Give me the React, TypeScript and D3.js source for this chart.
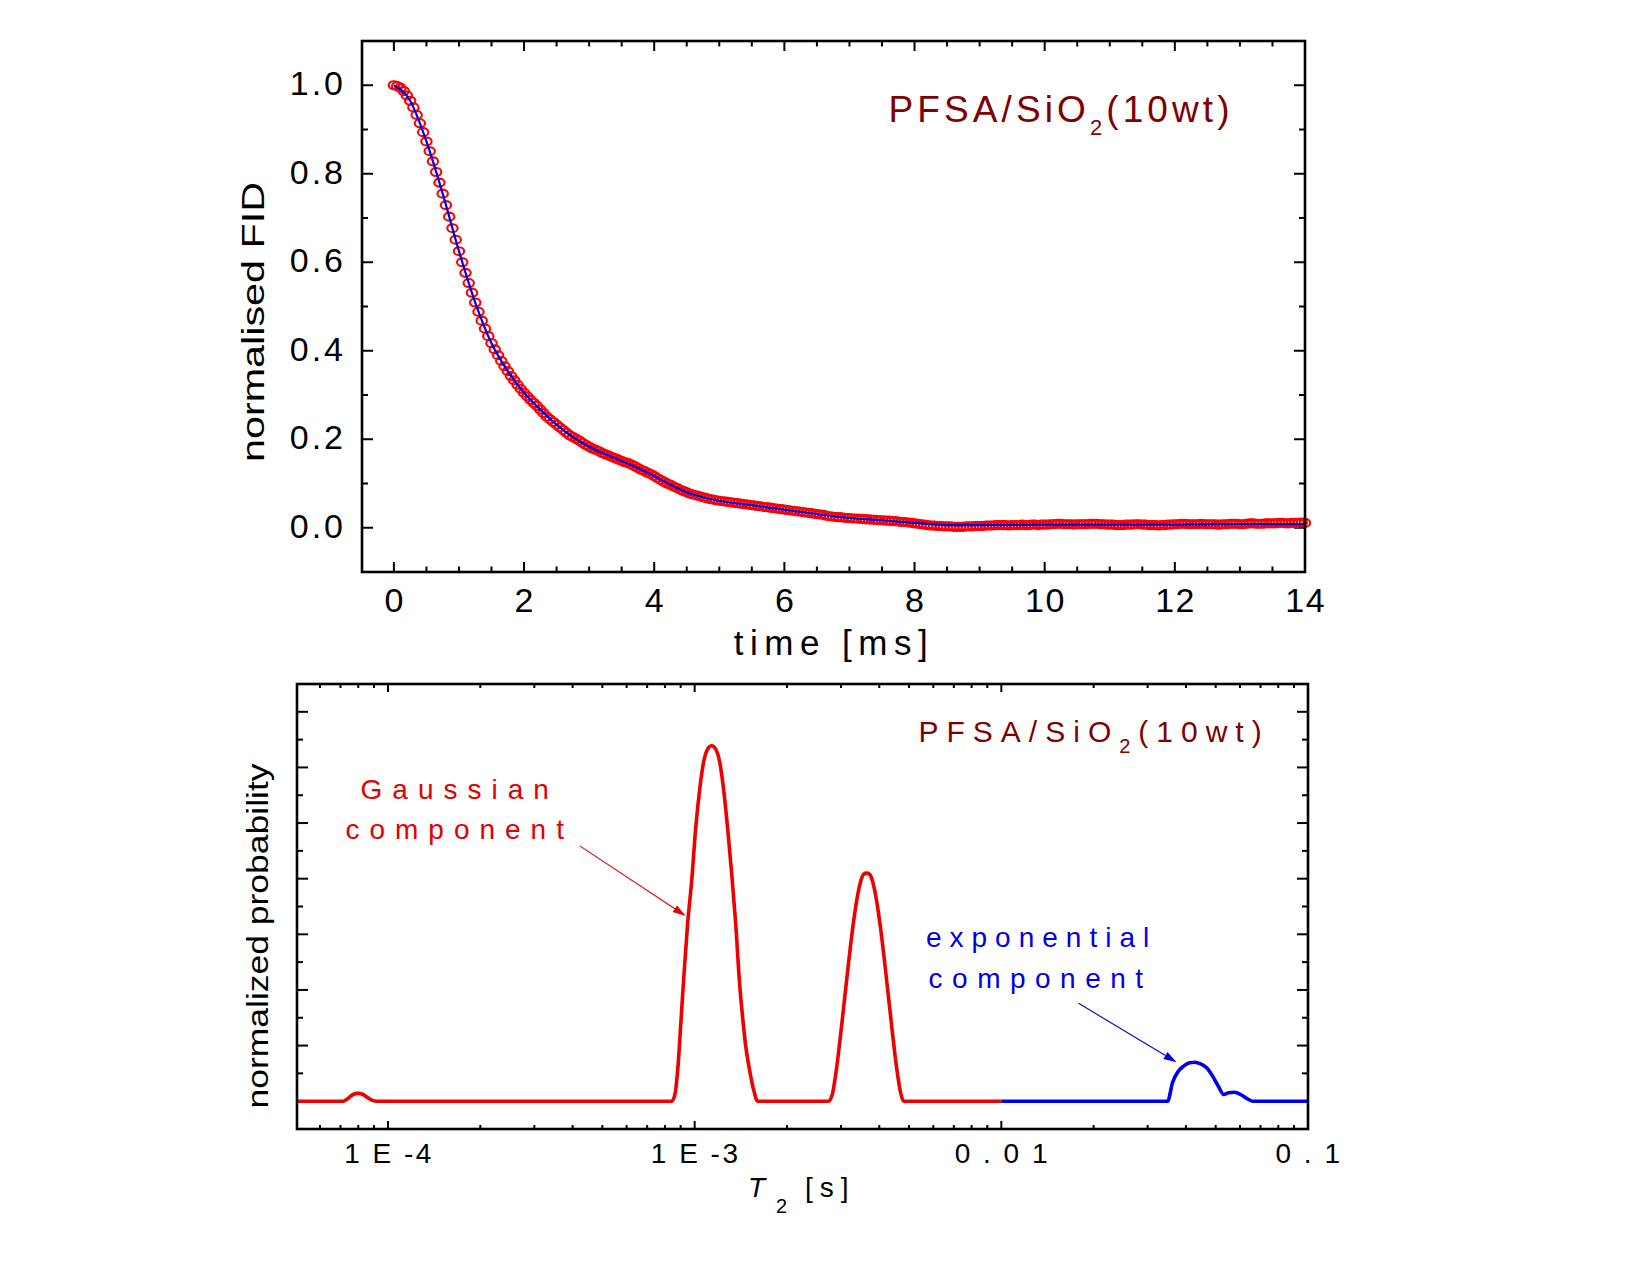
import React from 'react';
import * as d3 from 'd3';

const FONT = '"Liberation Sans", Arial, Helvetica, sans-serif';

// ---------- Top panel: normalised FID ----------
const fidStep = 0.05; // ms between acquired points
const fidValues: number[] = [
  1.000, 0.998, 0.994, 0.987, 0.977, 0.965, 0.950, 0.933, 0.914, 0.894, 0.873, 0.851, 0.828, 0.804, 0.780, 0.755, 0.729, 0.703, 0.677, 0.651,
  0.625, 0.600, 0.576, 0.553, 0.531, 0.509, 0.488, 0.468, 0.450, 0.433, 0.417, 0.403, 0.390, 0.377, 0.365, 0.354, 0.343, 0.333, 0.323, 0.314,
  0.305, 0.297, 0.289, 0.282, 0.275, 0.267, 0.259, 0.251, 0.245, 0.239, 0.233, 0.227, 0.221, 0.215, 0.209, 0.205, 0.201, 0.197, 0.192, 0.187,
  0.183, 0.179, 0.176, 0.173, 0.169, 0.166, 0.163, 0.160, 0.157, 0.154, 0.151, 0.148, 0.146, 0.143, 0.139, 0.135, 0.131, 0.128, 0.124, 0.121,
  0.117, 0.112, 0.108, 0.104, 0.100, 0.097, 0.093, 0.090, 0.086, 0.083, 0.080, 0.077, 0.075, 0.073, 0.071, 0.069, 0.067, 0.065, 0.064, 0.062,
  0.061, 0.060, 0.059, 0.058, 0.057, 0.056, 0.055, 0.054, 0.053, 0.052, 0.051, 0.050, 0.049, 0.048, 0.047, 0.046, 0.045, 0.044, 0.043, 0.042,
  0.041, 0.040, 0.039, 0.038, 0.037, 0.036, 0.035, 0.034, 0.033, 0.032, 0.031, 0.030, 0.029, 0.027, 0.026, 0.025, 0.024, 0.024, 0.023, 0.022,
  0.022, 0.021, 0.021, 0.020, 0.020, 0.019, 0.019, 0.018, 0.018, 0.017, 0.017, 0.016, 0.016, 0.015, 0.015, 0.014, 0.013, 0.013, 0.012, 0.011,
  0.010, 0.009, 0.008, 0.007, 0.006, 0.005, 0.005, 0.004, 0.004, 0.003, 0.003, 0.003, 0.002, 0.002, 0.002, 0.002, 0.003, 0.003, 0.003, 0.004,
  0.004,
  0.004, 0.005, 0.005, 0.005, 0.006, 0.006, 0.006, 0.006, 0.005, 0.006,
  0.006, 0.006, 0.007, 0.006, 0.006, 0.007, 0.007, 0.006, 0.007, 0.007,
  0.007, 0.008, 0.008, 0.009, 0.009, 0.008, 0.008, 0.008, 0.007, 0.008,
  0.008, 0.008, 0.008, 0.009, 0.009, 0.009, 0.008, 0.008, 0.007, 0.007,
  0.007, 0.006, 0.006, 0.006, 0.007, 0.007, 0.007, 0.008, 0.008, 0.007,
  0.007, 0.006, 0.006, 0.006, 0.005, 0.006, 0.006, 0.007, 0.007, 0.008,
  0.008, 0.009, 0.009, 0.008, 0.008, 0.008, 0.008, 0.009, 0.008, 0.008,
  0.008, 0.008, 0.007, 0.007, 0.008, 0.008, 0.009, 0.009, 0.009, 0.008,
  0.008, 0.009, 0.010, 0.010, 0.009, 0.009, 0.009, 0.010, 0.010, 0.010,
  0.010, 0.011, 0.011, 0.010, 0.010, 0.011, 0.011, 0.011, 0.012, 0.011,
];

const fitTimes = [0, 0.25, 0.5, 0.75, 1.0, 1.25, 1.5, 1.75, 2.0, 2.25, 2.5, 2.75, 3.0, 3.25, 3.5, 3.75, 4.0, 4.25, 4.5, 4.75, 5.0, 5.5, 6.0, 6.5, 7.0, 7.5, 8.0, 8.5, 9.0, 10, 11, 12, 13, 14];
const fitValues = [1.0, 0.965, 0.873, 0.755, 0.625, 0.509, 0.417, 0.354, 0.305, 0.267, 0.233, 0.205, 0.183, 0.166, 0.151, 0.135, 0.117, 0.097, 0.080, 0.069, 0.061, 0.051, 0.041, 0.031, 0.022, 0.017, 0.011, 0.006, 0.006, 0.007, 0.007, 0.007, 0.008, 0.008];

const topXTickValues = [0, 2, 4, 6, 8, 10, 12, 14];
const topXTickLabels = ['0', '2', '4', '6', '8', '10', '12', '14'];
const topYTickValues = [0, 0.2, 0.4, 0.6, 0.8, 1.0];
const topYTickLabels = ['0.0', '0.2', '0.4', '0.6', '0.8', '1.0'];

// ---------- Bottom panel: T2 distribution ----------
const gaussT2 = [
  5.05e-5, 7.135e-5, 7.408e-5, 7.691e-5, 7.985e-5, 8.29e-5, 8.605e-5, 8.935e-5, 9.138e-5,
  8.414e-4, 8.605e-4, 8.802e-4, 9.002e-4, 9.208e-4, 9.488e-4, 9.777e-4, 1.0075e-3, 1.0382e-3, 1.0699e-3, 1.1025e-3, 1.1361e-3,
  1.1708e-3, 1.2065e-3, 1.2432e-3, 1.2812e-3, 1.3202e-3, 1.3605e-3, 1.4019e-3, 1.434e-3, 1.4666e-3, 1.5115e-3, 1.5576e-3, 1.605e-3,
  2.7349e-3, 2.8181e-3, 2.904e-3, 2.9924e-3, 3.0837e-3, 3.1776e-3, 3.2745e-3, 3.3743e-3, 3.4771e-3, 3.5564e-3, 3.6374e-3,
  3.7202e-3, 3.8049e-3, 3.9209e-3, 4.0404e-3, 4.1636e-3, 4.2905e-3, 4.4213e-3, 4.5562e-3, 4.695e-3, 4.802e-3,
  0.01,
];
const gaussP = [
  0, 0, 0.05, 0.12, 0.14, 0.12, 0.06, 0.01, 0,
  0, 0.1, 0.55, 1.35, 2.2, 3.2, 3.95, 4.9, 5.6, 6.1, 6.33, 6.39,
  6.33, 6.1, 5.6, 4.9, 4.1, 3.2, 2.1, 1.5, 1.0, 0.55, 0.2, 0,
  0, 0.15, 0.6, 1.2, 1.85, 2.5, 3.1, 3.6, 3.95, 4.08, 4.1,
  4.08, 3.95, 3.6, 3.1, 2.5, 1.85, 1.2, 0.6, 0.15, 0,
  0,
];
const expT2 = [0.01, 0.03485, 0.03619, 0.03757, 0.0393, 0.04111, 0.04268, 0.04465, 0.04671, 0.04886, 0.05111, 0.05307, 0.0551, 0.05764, 0.06029, 0.06307, 0.06597, 0.1];
const expP = [0, 0, 0.34, 0.52, 0.63, 0.69, 0.70, 0.67, 0.60, 0.45, 0.26, 0.12, 0.15, 0.16, 0.12, 0.05, 0, 0];

const botXTickValues = [1e-4, 1e-3, 1e-2, 1e-1];
const botXTickLabels = ['1 E -4', '1 E -3', '0 . 0 1', '0 . 1'];
const botYMajor = [0, 1, 2, 3, 4, 5, 6, 7];
const botYMinor = [0.5, 1.5, 2.5, 3.5, 4.5, 5.5, 6.5];

const RED = '#ee0000';
const BLUE = '#0000ee';
const MAROON = '#800000';

function Arrow({ x1, y1, x2, y2, color }: { x1: number; y1: number; x2: number; y2: number; color: string }) {
  const a = Math.atan2(y2 - y1, x2 - x1);
  const L = 13, w = 4;
  const bx = x2 - L * Math.cos(a), by = y2 - L * Math.sin(a);
  const p1 = [bx - w * Math.sin(a), by + w * Math.cos(a)];
  const p2 = [bx + w * Math.sin(a), by - w * Math.cos(a)];
  return (
    <g>
      <line x1={x1} y1={y1} x2={bx} y2={by} stroke={color} strokeWidth={1.1} />
      <polygon points={`${x2},${y2} ${p1[0]},${p1[1]} ${p2[0]},${p2[1]}`} fill={color} />
    </g>
  );
}

export default function App() {
  const top = { l: 362, r: 1305, t: 41, b: 572 };
  const bot = { l: 297, r: 1308, t: 684, b: 1129 };

  const xT = d3.scaleLinear().domain([-0.49, 14]).range([top.l, top.r]);
  const yT = d3.scaleLinear().domain([-0.1, 1.1]).range([top.b, top.t]);
  const xB = d3.scaleLog().domain([5.05e-5, 0.1]).range([bot.l, bot.r]);
  const yB = d3.scaleLinear().domain([-0.5, 7.5]).range([bot.b, bot.t]);

  const fitLine = d3.line<number>()
    .x((_, i) => xT(fitTimes[i]))
    .y((d) => yT(d))
    .curve(d3.curveMonotoneX)(fitValues) as string;

  const gaussLine = d3.line<number>()
    .x((_, i) => xB(gaussT2[i]))
    .y((d) => yB(d))
    .curve(d3.curveMonotoneX)(gaussP) as string;
  const expLine = d3.line<number>()
    .x((_, i) => xB(expT2[i]))
    .y((d) => yB(d))
    .curve(d3.curveMonotoneX)(expP) as string;

  const topMinorX = d3.range(0, 14.001, 0.5).filter((v) => !topXTickValues.includes(v));
  const topMinorY = [0.1, 0.3, 0.5, 0.7, 0.9];
  const botLogTicks = xB.ticks().filter((v) => !botXTickValues.some((m) => Math.abs(m - v) / m < 1e-6));

  const frame = 2.6;
  const tickW = 2;

  return (
    <svg width={1650} height={1275} style={{ position: 'absolute', left: 0, top: 0, background: '#fff' }} fontFamily={FONT}>
      <rect x={0} y={0} width={1650} height={1275} fill="#fff" />

      {/* ================= TOP PANEL ================= */}
      <g>
        {topXTickValues.map((v) => (
          <g key={'tx' + v}>
            <line x1={xT(v)} x2={xT(v)} y1={top.b} y2={top.b - 10} stroke="#000" strokeWidth={tickW} />
            <line x1={xT(v)} x2={xT(v)} y1={top.t} y2={top.t + 10} stroke="#000" strokeWidth={tickW} />
          </g>
        ))}
        {topMinorX.map((v) => (
          <g key={'tmx' + v}>
            <line x1={xT(v)} x2={xT(v)} y1={top.b} y2={top.b - 5.5} stroke="#000" strokeWidth={tickW} />
            <line x1={xT(v)} x2={xT(v)} y1={top.t} y2={top.t + 5.5} stroke="#000" strokeWidth={tickW} />
          </g>
        ))}
        {topYTickValues.map((v) => (
          <g key={'ty' + v}>
            <line x1={top.l} x2={top.l + 11} y1={yT(v)} y2={yT(v)} stroke="#000" strokeWidth={tickW} />
            <line x1={top.r} x2={top.r - 11} y1={yT(v)} y2={yT(v)} stroke="#000" strokeWidth={tickW} />
          </g>
        ))}
        {topMinorY.map((v) => (
          <g key={'tmy' + v}>
            <line x1={top.l} x2={top.l + 6} y1={yT(v)} y2={yT(v)} stroke="#000" strokeWidth={tickW} />
            <line x1={top.r} x2={top.r - 6} y1={yT(v)} y2={yT(v)} stroke="#000" strokeWidth={tickW} />
          </g>
        ))}

        {fidValues.map((v, i) => (
          <ellipse key={'c' + i} cx={xT(i * fidStep)} cy={yT(v)} rx={5.2} ry={4} fill="none" stroke="#ff0000" strokeWidth={2.1} />
        ))}
        <path d={fitLine} fill="none" stroke="#0000dd" strokeWidth={2.2} />

        <rect x={top.l} y={top.t} width={top.r - top.l} height={top.b - top.t} fill="none" stroke="#000" strokeWidth={frame} />

        {topXTickValues.map((v, i) => (
          <text key={'txl' + v} x={xT(v) + 0.75} y={612} fontSize={34} letterSpacing={1.5} textAnchor="middle" fill="#000">
            {topXTickLabels[i]}
          </text>
        ))}
        {topYTickValues.map((v, i) => (
          <text key={'tyl' + v} x={346} y={yT(v) + 10} fontSize={34} letterSpacing={3} textAnchor="end" fill="#000">
            {topYTickLabels[i]}
          </text>
        ))}

        <text x={834} y={655} fontSize={35} letterSpacing={6.5} textAnchor="middle" fill="#000">time [ms]</text>
        <text transform="translate(264,322) rotate(-90)" fontSize={32} textAnchor="middle" textLength={280} lengthAdjust="spacingAndGlyphs" fill="#000">
          normalised FID
        </text>

        <text x={xT(7.6)} y={yT(0.916)} fontSize={37} letterSpacing={4.1} fill={MAROON}>
          PFSA/SiO<tspan fontSize={22} dy={13}>2</tspan><tspan dy={-13}>(10wt)</tspan>
        </text>
      </g>

      {/* ================= BOTTOM PANEL ================= */}
      <g>
        {botXTickValues.map((v) => (
          <g key={'bx' + v}>
            <line x1={xB(v)} x2={xB(v)} y1={bot.b} y2={bot.b - 8} stroke="#000" strokeWidth={tickW} />
            <line x1={xB(v)} x2={xB(v)} y1={bot.t} y2={bot.t + 8} stroke="#000" strokeWidth={tickW} />
          </g>
        ))}
        {botLogTicks.map((v) => (
          <g key={'bmx' + v}>
            <line x1={xB(v)} x2={xB(v)} y1={bot.b} y2={bot.b - 4} stroke="#000" strokeWidth={tickW} />
            <line x1={xB(v)} x2={xB(v)} y1={bot.t} y2={bot.t + 4} stroke="#000" strokeWidth={tickW} />
          </g>
        ))}
        {botYMajor.map((v) => (
          <g key={'by' + v}>
            <line x1={bot.l} x2={bot.l + 11} y1={yB(v)} y2={yB(v)} stroke="#000" strokeWidth={tickW} />
            <line x1={bot.r} x2={bot.r - 11} y1={yB(v)} y2={yB(v)} stroke="#000" strokeWidth={tickW} />
          </g>
        ))}
        {botYMinor.map((v) => (
          <g key={'bmy' + v}>
            <line x1={bot.l} x2={bot.l + 6} y1={yB(v)} y2={yB(v)} stroke="#000" strokeWidth={tickW} />
            <line x1={bot.r} x2={bot.r - 6} y1={yB(v)} y2={yB(v)} stroke="#000" strokeWidth={tickW} />
          </g>
        ))}

        <path d={gaussLine} fill="none" stroke={RED} strokeWidth={3.6} strokeLinejoin="round" />
        <path d={expLine} fill="none" stroke={BLUE} strokeWidth={3.6} strokeLinejoin="round" />

        <rect x={bot.l} y={bot.t} width={bot.r - bot.l} height={bot.b - bot.t} fill="none" stroke="#000" strokeWidth={frame} />

        {botXTickValues.map((v, i) => (
          <text key={'bxl' + v} x={xB(v) + 1} y={1163} fontSize={28} letterSpacing={2.5} textAnchor="middle" fill="#000">
            {botXTickLabels[i]}
          </text>
        ))}

        <text x={748} y={1197} fontSize={28} fill="#000">
          <tspan fontStyle="italic">T</tspan>
        </text>
        <text x={776} y={1213} fontSize={20} fill="#000">2</text>
        <text x={805} y={1197} fontSize={28} letterSpacing={7} fill="#000">[s]</text>

        <text transform="translate(268,936) rotate(-90)" fontSize={29} textAnchor="middle" textLength={345} lengthAdjust="spacingAndGlyphs" fill="#000">
          normalized probability
        </text>

        <text x={xB(5.37e-3)} y={yB(6.46)} fontSize={30} letterSpacing={8} fill={MAROON}>
          PFSA/SiO<tspan fontSize={20} dy={11}>2</tspan><tspan dy={-11}>(10wt)</tspan>
        </text>

        <text x={xB(1.65e-4) + 5} y={yB(5.43)} fontSize={28} letterSpacing={10} textAnchor="middle" fill="#e00000">Gaussian</text>
        <text x={xB(1.65e-4) + 5} y={yB(4.71)} fontSize={28} letterSpacing={10} textAnchor="middle" fill="#e00000">component</text>
        <Arrow x1={xB(4.22e-4)} y1={yB(4.59)} x2={xB(9.35e-4)} y2={yB(3.33)} color="#e00000" />

        <text x={xB(0.01353)} y={yB(2.77)} fontSize={28} letterSpacing={8} textAnchor="middle" fill="#0000e0">exponential</text>
        <text x={xB(0.01353) - 1} y={yB(2.03)} fontSize={28} letterSpacing={9.5} textAnchor="middle" fill="#0000e0">component</text>
        <Arrow x1={xB(0.01786)} y1={yB(1.76)} x2={xB(0.03727)} y2={yB(0.7)} color="#0000e0" />
      </g>
    </svg>
  );
}
